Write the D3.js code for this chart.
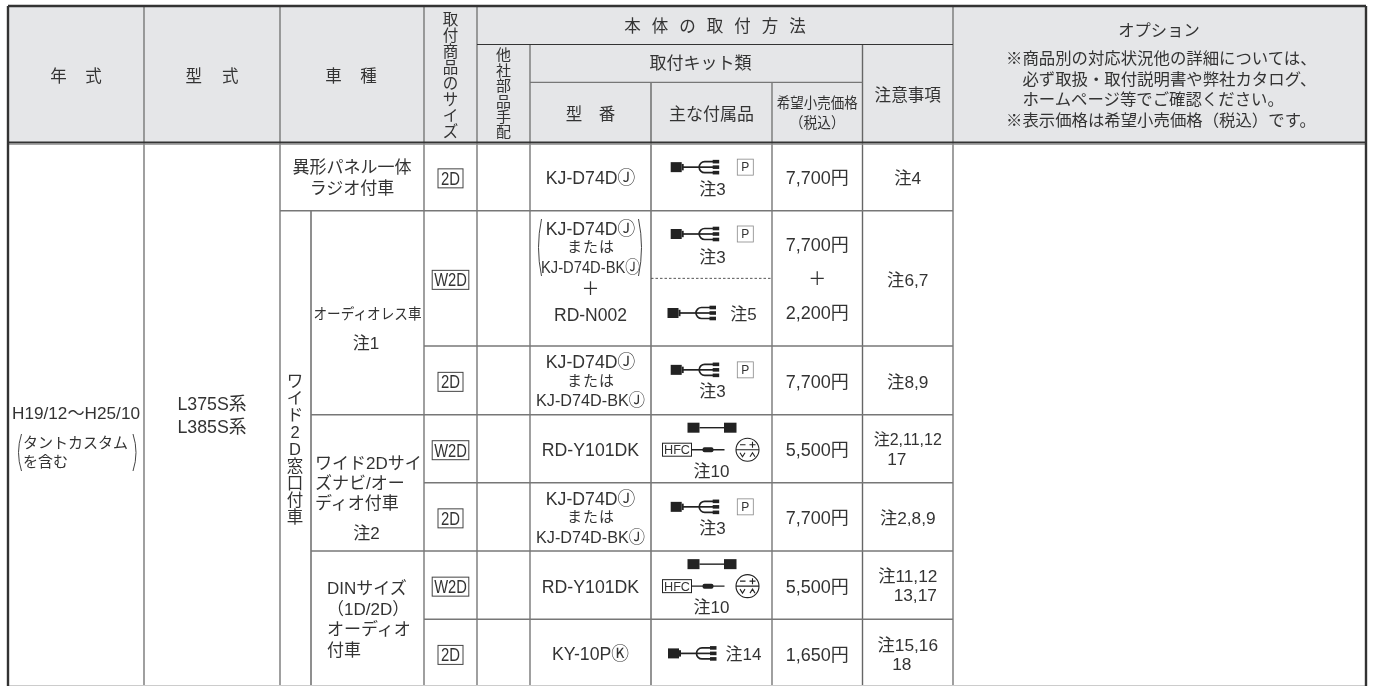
<!DOCTYPE html>
<html lang="ja">
<head>
<meta charset="utf-8">
<title>取付表</title>
<script src="https://cdn.jsdelivr.net/npm/d3@7"></script>
<style>
  html, body { margin: 0; padding: 0; background: #fff; }
  svg { display: block; filter: blur(0.3px); }
  text { font-family: "Liberation Sans", "Noto Sans CJK JP", sans-serif; fill: #333; }
</style>
</head>
<body>
<svg id="table"></svg>
<script>
const WIDTH = 1375;
const HEIGHT = 686;

// table data
const yearLabel = "H19/12〜H25/10";
const yearNote = ["タントカスタム", "を含む"];
const typeLabels = ["L375S系", "L385S系"];
const windowLabel = "ワイド2D窓口付車";
const sizes = ["2D", "W2D", "2D", "W2D", "2D", "W2D", "2D"];
const prices = [["7,700円"], ["7,700円", "＋", "2,200円"], ["7,700円"], ["5,500円"], ["7,700円"], ["5,500円"], ["1,650円"]];
const cautions = [["注4"], ["注6,7"], ["注8,9"], ["注2,11,12", "17"], ["注2,8,9"], ["注11,12", "13,17"], ["注15,16", "18"]];
const headerSize = "取付商品のサイズ";
const headerOther = "他社部品手配";
const optionNotes = [
  "※商品別の対応状況他の詳細については、",
  "　必ず取扱・取付説明書や弊社カタログ、",
  "　ホームページ等でご確認ください。",
  "※表示価格は希望小売価格（税込）です。",
];

// layout
const columnKeys = ["year", "type", "car", "sub", "size", "other", "model", "parts", "price", "caution", "option", "end"];
const columnEdges = [8, 144, 280, 311, 424, 477, 530, 651, 772, 862.5, 953, 1366];
const rowKeys = ["r0", "r1", "r2", "r3", "r4", "r5", "r6", "r7"];
const rowEdges = [143, 210.7, 346, 414.7, 482.7, 551, 619.3, 687.5];
const headKeys = ["top", "h1", "h2", "bottom"];
const headEdges = [6, 44.5, 82.3, 143];

const x = d3.scaleOrdinal().domain(columnKeys).range(columnEdges);
const y = d3.scaleOrdinal().domain(rowKeys).range(rowEdges);
const yHead = d3.scaleOrdinal().domain(headKeys).range(headEdges);

const colMid = (key) => (x(key) + x(columnKeys[columnKeys.indexOf(key) + 1])) / 2;
const rowMid = (i) => (y(rowKeys[i]) + y(rowKeys[i + 1])) / 2;

const GREY = "#777";
const DARK = "#333";
const HEAD_FILL = "#e5e6e8";

const svg = d3.select("#table").attr("width", WIDTH).attr("height", HEIGHT).attr("viewBox", `0 0 ${WIDTH} ${HEIGHT}`);

svg.append("rect")
  .attr("x", x("year")).attr("y", yHead("top"))
  .attr("width", x("end") - x("year")).attr("height", yHead("bottom") - yHead("top"))
  .attr("fill", HEAD_FILL);

const lineLayer = svg.append("g");
const textLayer = svg.append("g");
const iconLayer = svg.append("g");

function line(x1, y1, x2, y2, color = GREY, width = 1.4, dash = null) {
  lineLayer.append("line")
    .attr("x1", x1).attr("y1", y1).attr("x2", x2).attr("y2", y2)
    .attr("stroke", color).attr("stroke-width", width)
    .attr("stroke-dasharray", dash);
}

function label(str, cx, cy, opts = {}) {
  const size = opts.size || 17;
  const ls = opts.ls || 0;
  const anchor = opts.anchor || "middle";
  const t = textLayer.append("text")
    .attr("x", anchor === "middle" ? cx + ls / 2 : cx)
    .attr("y", cy)
    .attr("dy", "0.36em")
    .attr("text-anchor", anchor)
    .attr("font-size", size)
    .attr("letter-spacing", ls || null)
    .style("white-space", "pre")
    .text(str);
  if (opts.fit) t.attr("textLength", opts.fit).attr("lengthAdjust", "spacingAndGlyphs");
  return t;
}

function verticalLabel(str, cx, top, step, size) {
  textLayer.append("g").selectAll("text")
    .data(Array.from(str))
    .enter()
    .append("text")
    .attr("x", cx)
    .attr("y", (d, i) => top + i * step)
    .attr("dy", "0.36em")
    .attr("text-anchor", "middle")
    .attr("font-size", size)
    .text((d) => d);
}

// grid
const bottom = HEIGHT;
["type", "car", "size", "other", "model", "parts", "price", "caution", "option"].forEach((k) => {
  const top = k === "model" || k === "caution" ? yHead("h1") : (k === "parts" || k === "price") ? yHead("h2") : yHead("top");
  line(x(k), top, x(k), bottom, k === "caution" || k === "parts" ? "#666" : GREY, 1.4);
});
line(x("sub"), y("r1"), x("sub"), bottom, "#333", 1.1);
line(x("other"), yHead("h1"), x("option"), yHead("h1"), "#333", 1);
line(x("model"), yHead("h2"), x("caution"), yHead("h2"), GREY, 1.2);
line(x("car"), y("r1"), x("option"), y("r1"));
line(x("size"), y("r2"), x("option"), y("r2"));
line(x("sub"), y("r3"), x("option"), y("r3"));
line(x("size"), y("r4"), x("option"), y("r4"));
line(x("sub"), y("r5"), x("option"), y("r5"));
line(x("size"), y("r6"), x("option"), y("r6"));
line(x("parts"), rowMid(1), x("price"), rowMid(1), "#555", 1, "2.5 2");
line(x("year"), 685.5, x("end"), 685.5, "#ccc", 1);
line(x("year"), yHead("top"), x("end"), yHead("top"), DARK, 2.6);
line(x("year"), yHead("bottom") - 0.4, x("end"), yHead("bottom") - 0.4, DARK, 2);
line(x("year"), yHead("bottom") + 1.2, x("end"), yHead("bottom") + 1.2, "#888", 1.2);
line(x("year"), yHead("top"), x("year"), bottom, DARK, 2.4);
line(x("end"), yHead("top"), x("end"), bottom, DARK, 2.4);

// header text
label("年式", colMid("year"), 76, { size: 16.5, ls: 18.5 });
label("型式", colMid("type"), 76, { size: 16.5, ls: 20 });
label("車種", 351, 76, { size: 16.5, ls: 18.5 });
verticalLabel(headerSize, colMid("size"), 19, 16, 15.5);
verticalLabel(headerOther, colMid("other"), 55, 15.4, 15);
label("本体の取付方法", 715, 26, { size: 16.5, ls: 11 });
label("取付キット類", colMid("model") + 110, 63, { size: 17 });
label("型番", colMid("model"), 114, { size: 16.5, ls: 16.5 });
label("主な付属品", colMid("parts"), 114, { size: 17 });
label("希望小売価格", colMid("price"), 103, { size: 15, fit: 81 });
label("（税込）", colMid("price"), 123, { size: 15, fit: 55 });
label("注意事項", colMid("caution"), 95, { size: 16.6 });
label("オプション", 1159, 30, { size: 16.3 });
optionNotes.forEach((d, i) => label(d, 1006, 58 + i * 20.7, { size: 16.4, anchor: "start" }));

// left columns
label(yearLabel, colMid("year"), 412.7, { size: 17, fit: 128 });
yearNote.forEach((d, i) => label(d, 23, 442.7 + i * 19, { size: 15, anchor: "start" }));
typeLabels.forEach((d, i) => label(d, colMid("type"), 404 + i * 22.7, { size: 17.8 }));
verticalLabel(windowLabel, 295, 381, 17, 16.5);

// car kinds
label("異形パネル一体", 352, rowMid(0) - 10, { size: 17 });
label("ラジオ付車", 352, rowMid(0) + 11, { size: 17 });
label("オーディオレス車", colMid("sub"), 313.5, { size: 15, fit: 108 });
label("注1", 366, 342.5, { size: 17 });
["ワイド2Dサイ", "ズナビ/オー", "ディオ付車"].forEach((d, i) => label(d, x("sub") + 4, 462.7 + i * 20.3, { size: 17, anchor: "start" }));
label("注2", colMid("sub") - 1, 533, { size: 17 });
["DINサイズ", "（1D/2D）", "オーディオ", "付車"].forEach((d, i) => label(d, x("sub") + 16, 588 + i * 20.5, { size: 17, anchor: "start" }));

// size badges
sizes.forEach((d, i) => {
  const w = d === "2D" ? 25 : 36.6;
  const h = 19;
  const cx = colMid("size");
  const cy = rowMid(i) + 1.5;
  iconLayer.append("rect")
    .attr("x", cx - w / 2).attr("y", cy - h / 2)
    .attr("width", w).attr("height", h)
    .attr("fill", "#fff").attr("stroke", "#444").attr("stroke-width", 1);
  iconLayer.append("text")
    .attr("x", cx).attr("y", cy).attr("dy", "0.36em")
    .attr("text-anchor", "middle").attr("font-size", 17.5)
    .attr("textLength", d === "2D" ? 19 : 32.7)
    .attr("lengthAdjust", "spacingAndGlyphs")
    .text(d);
});

// model column
const modelPlain = "KJ-D74DⒿ";
const modelBlack = "KJ-D74D-BKⒿ";
const modelOr = "または";
label(modelPlain, colMid("model"), rowMid(0) + 1, { size: 17.7 });

label(modelPlain, colMid("model"), 229, { size: 17.7 });
label(modelOr, colMid("model"), 247, { size: 15, ls: 1 });
label(modelBlack, colMid("model"), 267, { size: 16.5, fit: 99 });
label("＋", colMid("model"), 289, { size: 18 });
label("RD-N002", colMid("model"), 315, { size: 17.5 });

function bracket(cx, y0, y1, dir) {
  lineLayer.append("path")
    .attr("d", `M${cx},${y0} Q${cx - dir * 6},${(y0 + y1) / 2} ${cx},${y1}`)
    .attr("fill", "none").attr("stroke", "#444").attr("stroke-width", 1);
}
bracket(541.5, 219, 276, 1);
bracket(638.5, 219, 276, -1);
bracket(21.5, 434, 471, 1);
bracket(133, 434, 471, -1);

[2, 4].forEach((i) => {
  label(modelPlain, colMid("model"), rowMid(i) - 18.5, { size: 17.7 });
  label(modelOr, colMid("model"), rowMid(i), { size: 15, ls: 1 });
  label(modelBlack, colMid("model"), rowMid(i) + 20, { size: 17, fit: 109 });
});
[3, 5].forEach((i) => label("RD-Y101DK", colMid("model"), rowMid(i) + 1, { size: 17.7 }));
label("KY-10PⓀ", colMid("model"), rowMid(6), { size: 17.7 });

// price and caution columns
prices.forEach((lines, i) => {
  const off = lines.length === 3 ? [-33.5, 0.5, 34.5] : [1];
  lines.forEach((d, j) => label(d, colMid("price"), rowMid(i) + off[j], { size: 18 }));
});
const cautionAlign = { "17": -11, "13,17": 7.5, "18": -6 };
cautions.forEach((lines, i) => {
  const off = lines.length === 2 ? [-9, 10] : [1];
  lines.forEach((d, j) => label(d, colMid("caution") + (cautionAlign[d] || 0), rowMid(i) + off[j], { size: d === "注2,11,12" ? 16 : 17.3 }));
});

// part icons
function harness(cx, cy) {
  const g = iconLayer.append("g").attr("fill", "none").attr("stroke", "#222").attr("stroke-width", 1.7);
  g.append("rect").attr("x", cx).attr("y", cy - 5).attr("width", 11).attr("height", 10).attr("fill", "#222").attr("stroke", "none");
  g.append("rect").attr("x", cx + 11).attr("y", cy - 3.2).attr("width", 2).attr("height", 6.4).attr("fill", "#222").attr("stroke", "none");
  g.append("path").attr("d", `M${cx + 12},${cy} H${cx + 43}`);
  g.append("path").attr("d", `M${cx + 43},${cy - 5.5} H${cx + 34} a5.5,5.5 0 0 0 0,11 H${cx + 43}`);
  [-5.5, 0, 5.5].forEach((o) => {
    g.append("rect").attr("x", cx + 42).attr("y", cy + o - 1.8).attr("width", 6.5).attr("height", 3.6).attr("fill", "#222").attr("stroke", "none");
  });
}
function pBox(cx, cy) {
  iconLayer.append("rect").attr("x", cx - 8).attr("y", cy - 8).attr("width", 16).attr("height", 16)
    .attr("fill", "#fff").attr("stroke", "#888").attr("stroke-width", 0.8);
  iconLayer.append("text").attr("x", cx).attr("y", cy).attr("dy", "0.36em")
    .attr("text-anchor", "middle").attr("font-size", 12).text("P");
}
function hfcSet(cx, cy) {
  // cx is the centre of the parts cell
  const g = iconLayer.append("g").attr("stroke", "#222").attr("fill", "#222");
  g.append("rect").attr("x", cx - 24).attr("y", cy - 27).attr("width", 12).attr("height", 10).attr("stroke", "none");
  g.append("rect").attr("x", cx + 12.5).attr("y", cy - 27).attr("width", 12.5).attr("height", 10).attr("stroke", "none");
  g.append("line").attr("x1", cx - 12).attr("x2", cx + 13).attr("y1", cy - 22).attr("y2", cy - 22).attr("stroke-width", 1.4);
  g.append("rect").attr("x", cx - 49).attr("y", cy - 6.5).attr("width", 29).attr("height", 13).attr("fill", "#fff").attr("stroke-width", 1);
  g.append("line").attr("x1", cx - 20).attr("x2", cx + 13).attr("y1", cy).attr("y2", cy).attr("stroke-width", 1.4);
  g.append("rect").attr("x", cx - 9).attr("y", cy - 2.5).attr("width", 11).attr("height", 5).attr("rx", 2).attr("stroke", "none");
  iconLayer.append("text").attr("x", cx - 34.5).attr("y", cy).attr("dy", "0.36em")
    .attr("text-anchor", "middle").attr("font-size", 12.5)
    .attr("textLength", 26).attr("lengthAdjust", "spacingAndGlyphs").text("HFC");
  const c = iconLayer.append("g").attr("fill", "none").attr("stroke", "#222").attr("stroke-width", 1.1)
    .attr("transform", `translate(${cx + 36},${cy})`);
  c.append("circle").attr("r", 11.5);
  c.append("path").attr("d", "M-11.5,0 H11.5 M-7.5,-5 H-2 M2,-5 H8 M5,-8 V-2 M-7.5,3 L-5,7 L-2.5,3 M2.5,7 L5,3 L7.5,7");
}

const partsMid = colMid("parts");
[[0, -9.7], [2, -10.5], [4, -10]].forEach(([i, o]) => {
  harness(partsMid - 40.8, rowMid(i) + o);
  pBox(partsMid + 33.8, rowMid(i) + o);
  label("注3", partsMid + 1, rowMid(i) + o + 21.5);
});
harness(partsMid - 40.8, 234);
pBox(partsMid + 33.8, 234);
label("注3", partsMid + 1, 256.7);
harness(partsMid - 44, 313);
label("注5", partsMid + 32, 314);
harness(partsMid - 43.5, rowMid(6));
label("注14", partsMid + 32, rowMid(6));
[3, 5].forEach((i) => {
  hfcSet(partsMid, rowMid(i) + 1);
  label("注10", partsMid, rowMid(i) + 22);
});
</script>
</body>
</html>
